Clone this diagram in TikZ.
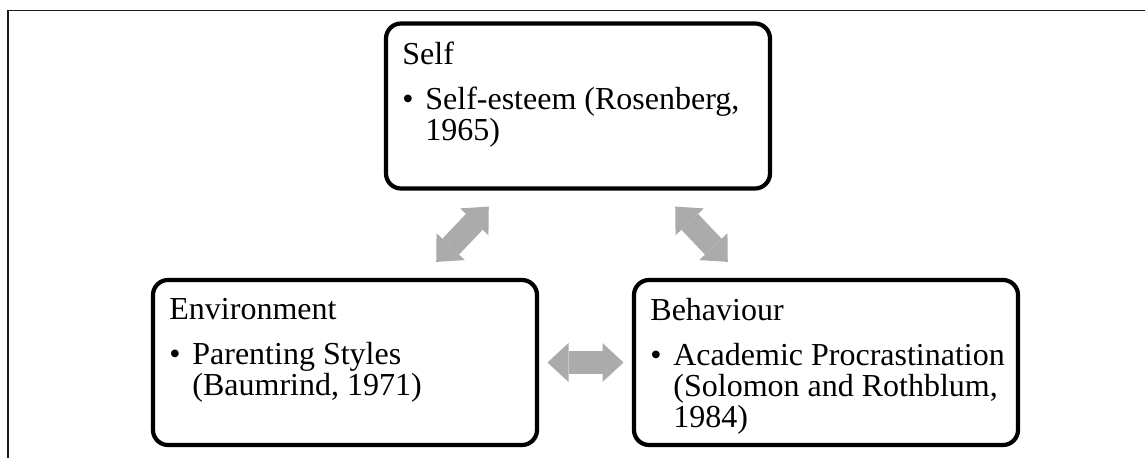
\documentclass[tikz,border=0pt]{standalone}
\usepackage{fontspec}
\setmainfont{Liberation Serif}
\usetikzlibrary{positioning, arrows.meta}
\definecolor{fwLine}{HTML}{000000}
\definecolor{fwArrow}{HTML}{ABABAB}
\definecolor{fwFrame}{HTML}{1A1A1A}
\newcommand{\fwbullet}{\makebox[11.5pt][l]{\textbullet}}

\begin{document}
\begin{tikzpicture}[
  x=0.5pt, y=-0.5pt,
  box/.style={draw=fwLine, line width=2.1pt, rounded corners=7.5pt, outer sep=0pt,
              minimum width=192pt, minimum height=82.5pt, inner sep=0pt},
  txt/.style={align=left, inner sep=0pt, anchor=north west,
              font=\fontsize{16pt}{15.5pt}\selectfont},
  tip/.style={Triangle[width=19.5pt, length=10.5pt, line width=0pt]},
  arr/.style={{Triangle[width=19.5pt, length=10.5pt, line width=0pt]}-{Triangle[width=19.5pt, length=10.5pt, line width=0pt]},
              line width=11.5pt, draw=fwArrow, shorten <=12.5pt, shorten >=12.5pt}
]
\useasboundingbox (0,0) rectangle (1145,458);

% outer frame (cut off at right and bottom)
\draw[fwFrame, line width=0.85pt] (8.3,458) -- (8.3,10.5) -- (1145,10.5);

% ===== three boxes =====
\node[box] (self) at (578,106)   {};
\node[box] (env)  at (345,362.5) {};
\node[box] (beh)  at (826,362.5) {};

\node[txt, below right=9pt and 8pt of self.north west] (selftxt)
  {Self\\[7pt]\fwbullet Self-esteem (Rosenberg,\\\hspace*{11.5pt}1965)};
\node[txt, below right=9pt and 8pt of env.north west] (envtxt)
  {Environment\\[7pt]\fwbullet Parenting Styles\\\hspace*{11.5pt}(Baumrind, 1971)};
\node[txt, below right=9pt and 8pt of beh.north west] (behtxt)
  {Behaviour\\[7pt]\fwbullet Academic Procrastination\\\hspace*{11.5pt}(Solomon and Rothblum,\\\hspace*{11.5pt}1984)};

% ===== two-way arrows =====
\draw[arr] ([xshift=37pt]env.north) -- ([xshift=-36pt]self.south);
\draw[arr] ([xshift=40pt]self.south) -- ([xshift=-40.5pt]beh.north);
\draw[arr, shorten <=5.25pt, shorten >=5.25pt] (env) -- (beh);

\end{tikzpicture}
\end{document}
